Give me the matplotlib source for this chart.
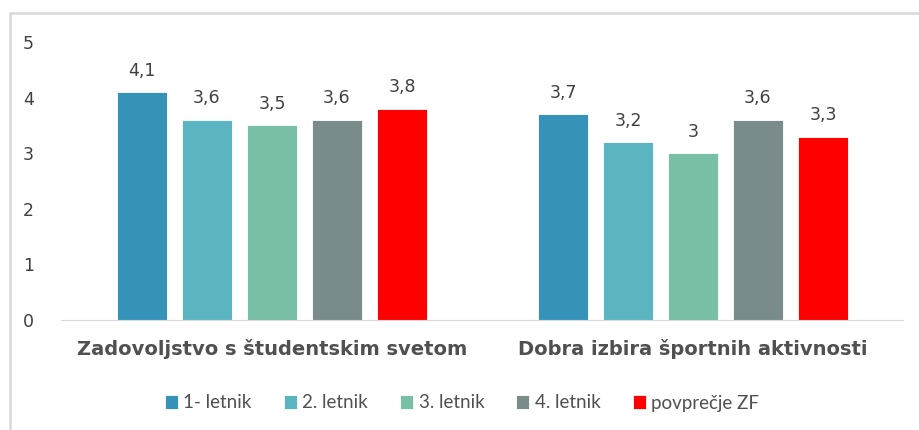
import numpy as np
import matplotlib.pyplot as plt
from matplotlib.patches import Rectangle

categories = ["Zadovoljstvo s študentskim svetom", "Dobra izbira športnih aktivnosti"]
series = ["1- letnik", "2. letnik", "3. letnik", "4. letnik", "povprečje ZF"]
values = [
    [4.1, 3.7],
    [3.6, 3.2],
    [3.5, 3.0],
    [3.6, 3.6],
    [3.8, 3.3],
]
colors = ["#3593B9", "#5AB5C0", "#78BFA5", "#7A8B8C", "#FF0000"]

plt.rcParams['font.family'] = ['DejaVu Sans']
text_col = "#404040"

fig = plt.figure(figsize=(9.2, 4.3), dpi=100)
ax = fig.add_axes([61.5 / 920, 1 - 320 / 430, (903.5 - 61.5) / 920, (320 - 42) / 430])

# outer frame (runs off the right and bottom edges)
frame = Rectangle((10 / 920, -0.05), 1.0, 1 - 13 / 430 + 0.05,
                  transform=fig.transFigure, fill=False,
                  edgecolor="#D9D9D9", linewidth=1.8)
fig.patches.append(frame)

x = np.arange(len(categories))
step = 65 / 421
width = 50 / 421
for i, (name, vals) in enumerate(zip(series, values)):
    pos = x + (i - 2) * step
    bars = ax.bar(pos, vals, width, color=colors[i], label=name,
                  edgecolor="white", linewidth=0.6)
    for b, v in zip(bars, vals):
        lab = ("%g" % v).replace(".", ",")
        ax.annotate(lab, (b.get_x() + b.get_width() / 2, v),
                    xytext=(0, 9), textcoords="offset points",
                    ha="center", va="bottom", fontsize=12.5, color=text_col)

ax.set_xlim(-0.5, 1.5)
ax.set_ylim(0, 5)
ax.set_yticks(range(6))
ax.tick_params(axis="y", length=0, pad=20, labelsize=12.5, labelcolor=text_col)
ax.set_xticks(x)
ax.set_xticklabels(categories, fontsize=14, fontweight="bold", color="#505050")
ax.tick_params(axis="x", length=0, pad=14)
for s in ["top", "right", "left"]:
    ax.spines[s].set_visible(False)
ax.spines["bottom"].set_color("#D9D9D9")

fig.legend(loc="center", bbox_to_anchor=(462 / 920, 1 - 403 / 430), ncol=5,
           frameon=False, prop={"family": "Lato", "size": 13.5},
           handlelength=0.7, handleheight=0.7,
           handletextpad=0.3, columnspacing=1.7, labelcolor="#505050")

fig.savefig("out.png", dpi=100)
